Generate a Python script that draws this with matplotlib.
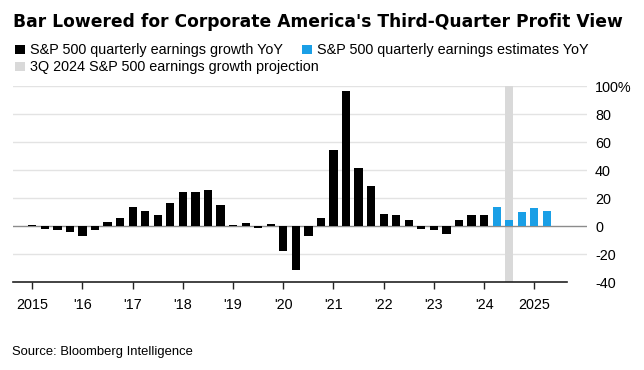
import matplotlib
matplotlib.use("Agg")
import matplotlib.pyplot as plt
from matplotlib.patches import Rectangle
import numpy as np

plt.rcParams['font.family'] = ['Liberation Sans', 'DejaVu Sans']

# ---- data ----
quarters = [f"{q}Q{y}" for y in range(2015, 2026) for q in range(1, 5)][:42]
actual_growth = [1, -2, -3, -4.3, -6.7, -3, 3, 6, 14, 11, 7.9, 16.4,
                 24.3, 24.3, 25.7, 14.8, 1, 2.1, -1, 1.4, -17.9, -31.2, -6.7, 6,
                 54, 96.4, 41.2, 29, 9, 8.1, 4.5, -2.1, -2.9, -5.7, 4.5, 8.1, 8.1]
estimate_growth = [14, 4.3, 9.8, 13.3, 11.2]
projection_quarter = "3Q2024"
year_ticks = ["1Q2015", "1Q2016", "1Q2017", "1Q2018", "1Q2019", "1Q2020",
              "1Q2021", "1Q2022", "1Q2023", "1Q2024", "1Q2025"]
year_labels = ["2015", "'16", "'17", "'18", "'19", "'20", "'21", "'22", "'23", "'24", "2025"]
y_ticks = [100, 80, 60, 40, 20, 0, -20, -40]
y_labels = ["100%", "80", "60", "40", "20", "0", "-20", "-40"]

BLACK = "#000000"
BLUE = "#1a9fe6"
GREY = "#d9d9d9"

W, H = 644, 370
fig = plt.figure(figsize=(W / 100, H / 100), dpi=100)

def fx(px):
    return px / W

def fy(py):
    return 1 - py / H

ax_left, ax_right, ax_top, ax_bottom = 12.7, 586.7, 86.0, 282.3
ax = fig.add_axes([fx(ax_left), fy(ax_bottom), fx(ax_right - ax_left), (ax_bottom - ax_top) / H])

pos = {q: i for i, q in enumerate(quarters)}
n_act = len(actual_growth)
x_act = np.arange(n_act)
x_est = np.arange(n_act, n_act + len(estimate_growth))

# quarter spacing 12.55 px, first bar at 32.3 px
step = 12.55
x0 = (ax_left - 32.3) / step
x1 = (ax_right - 32.3) / step
ax.set_xlim(x0, x1)
ax.set_ylim(-40, 100)

# grid
for t in y_ticks:
    if t == 0:
        ax.axhline(0, color="#8c8c8c", lw=1.0, zorder=2)
    elif t == -40:
        pass
    else:
        ax.axhline(t, color="#e3e3e3", lw=1.0, zorder=0)

# projection band
xp = pos[projection_quarter]
ax.axvspan(xp - 0.33, xp + 0.33, color=GREY, lw=0, zorder=0.5)

bw = 0.66
ax.bar(x_act, actual_growth, width=bw, color=BLACK, zorder=3)
ax.bar(x_est, estimate_growth, width=bw, color=BLUE, zorder=3)

# bottom axis line ending before the labels
axis_end = (566.7 - ax_left) / (ax_right - ax_left)
ax.axhline(-40, xmin=0, xmax=axis_end, color="#222222", lw=1.2, zorder=4, clip_on=False)

for s in ax.spines.values():
    s.set_visible(False)

ax.set_xticks([pos[q] for q in year_ticks])
ax.set_xticklabels(year_labels, fontsize=10.4)
ax.tick_params(axis="x", length=5, width=1, color="#222222", pad=6)

ax.yaxis.tick_right()
ax.set_yticks(y_ticks)
ax.set_yticklabels(y_labels, fontsize=10.4, ha="left")
ax.tick_params(axis="y", length=0, pad=6)

# title
fig.text(fx(13), fy(26.7), "Bar Lowered for Corporate America's Third-Quarter Profit View",
         fontsize=12.35, fontweight="bold", family=["DejaVu Sans"], ha="left", va="baseline")

# legend
def legend_item(px, base_py, color, label):
    fig.patches.append(Rectangle((fx(px), fy(base_py)), fx(10), 9.5 / H,
                                 transform=fig.transFigure, color=color, lw=0))
    fig.text(fx(px + 15), fy(base_py), label, fontsize=10.4, ha="left", va="baseline")

legend_item(15, 54, BLACK, "S&P 500 quarterly earnings growth YoY")
legend_item(301.7, 54, BLUE, "S&P 500 quarterly earnings estimates YoY")
legend_item(15, 71, GREY, "3Q 2024 S&P 500 earnings growth projection")

fig.text(fx(12.3), fy(355), "Source: Bloomberg Intelligence", fontsize=9.4,
         family=["Liberation Sans Narrow", "Liberation Sans"], ha="left", va="baseline")

fig.savefig("out.png", dpi=100)
